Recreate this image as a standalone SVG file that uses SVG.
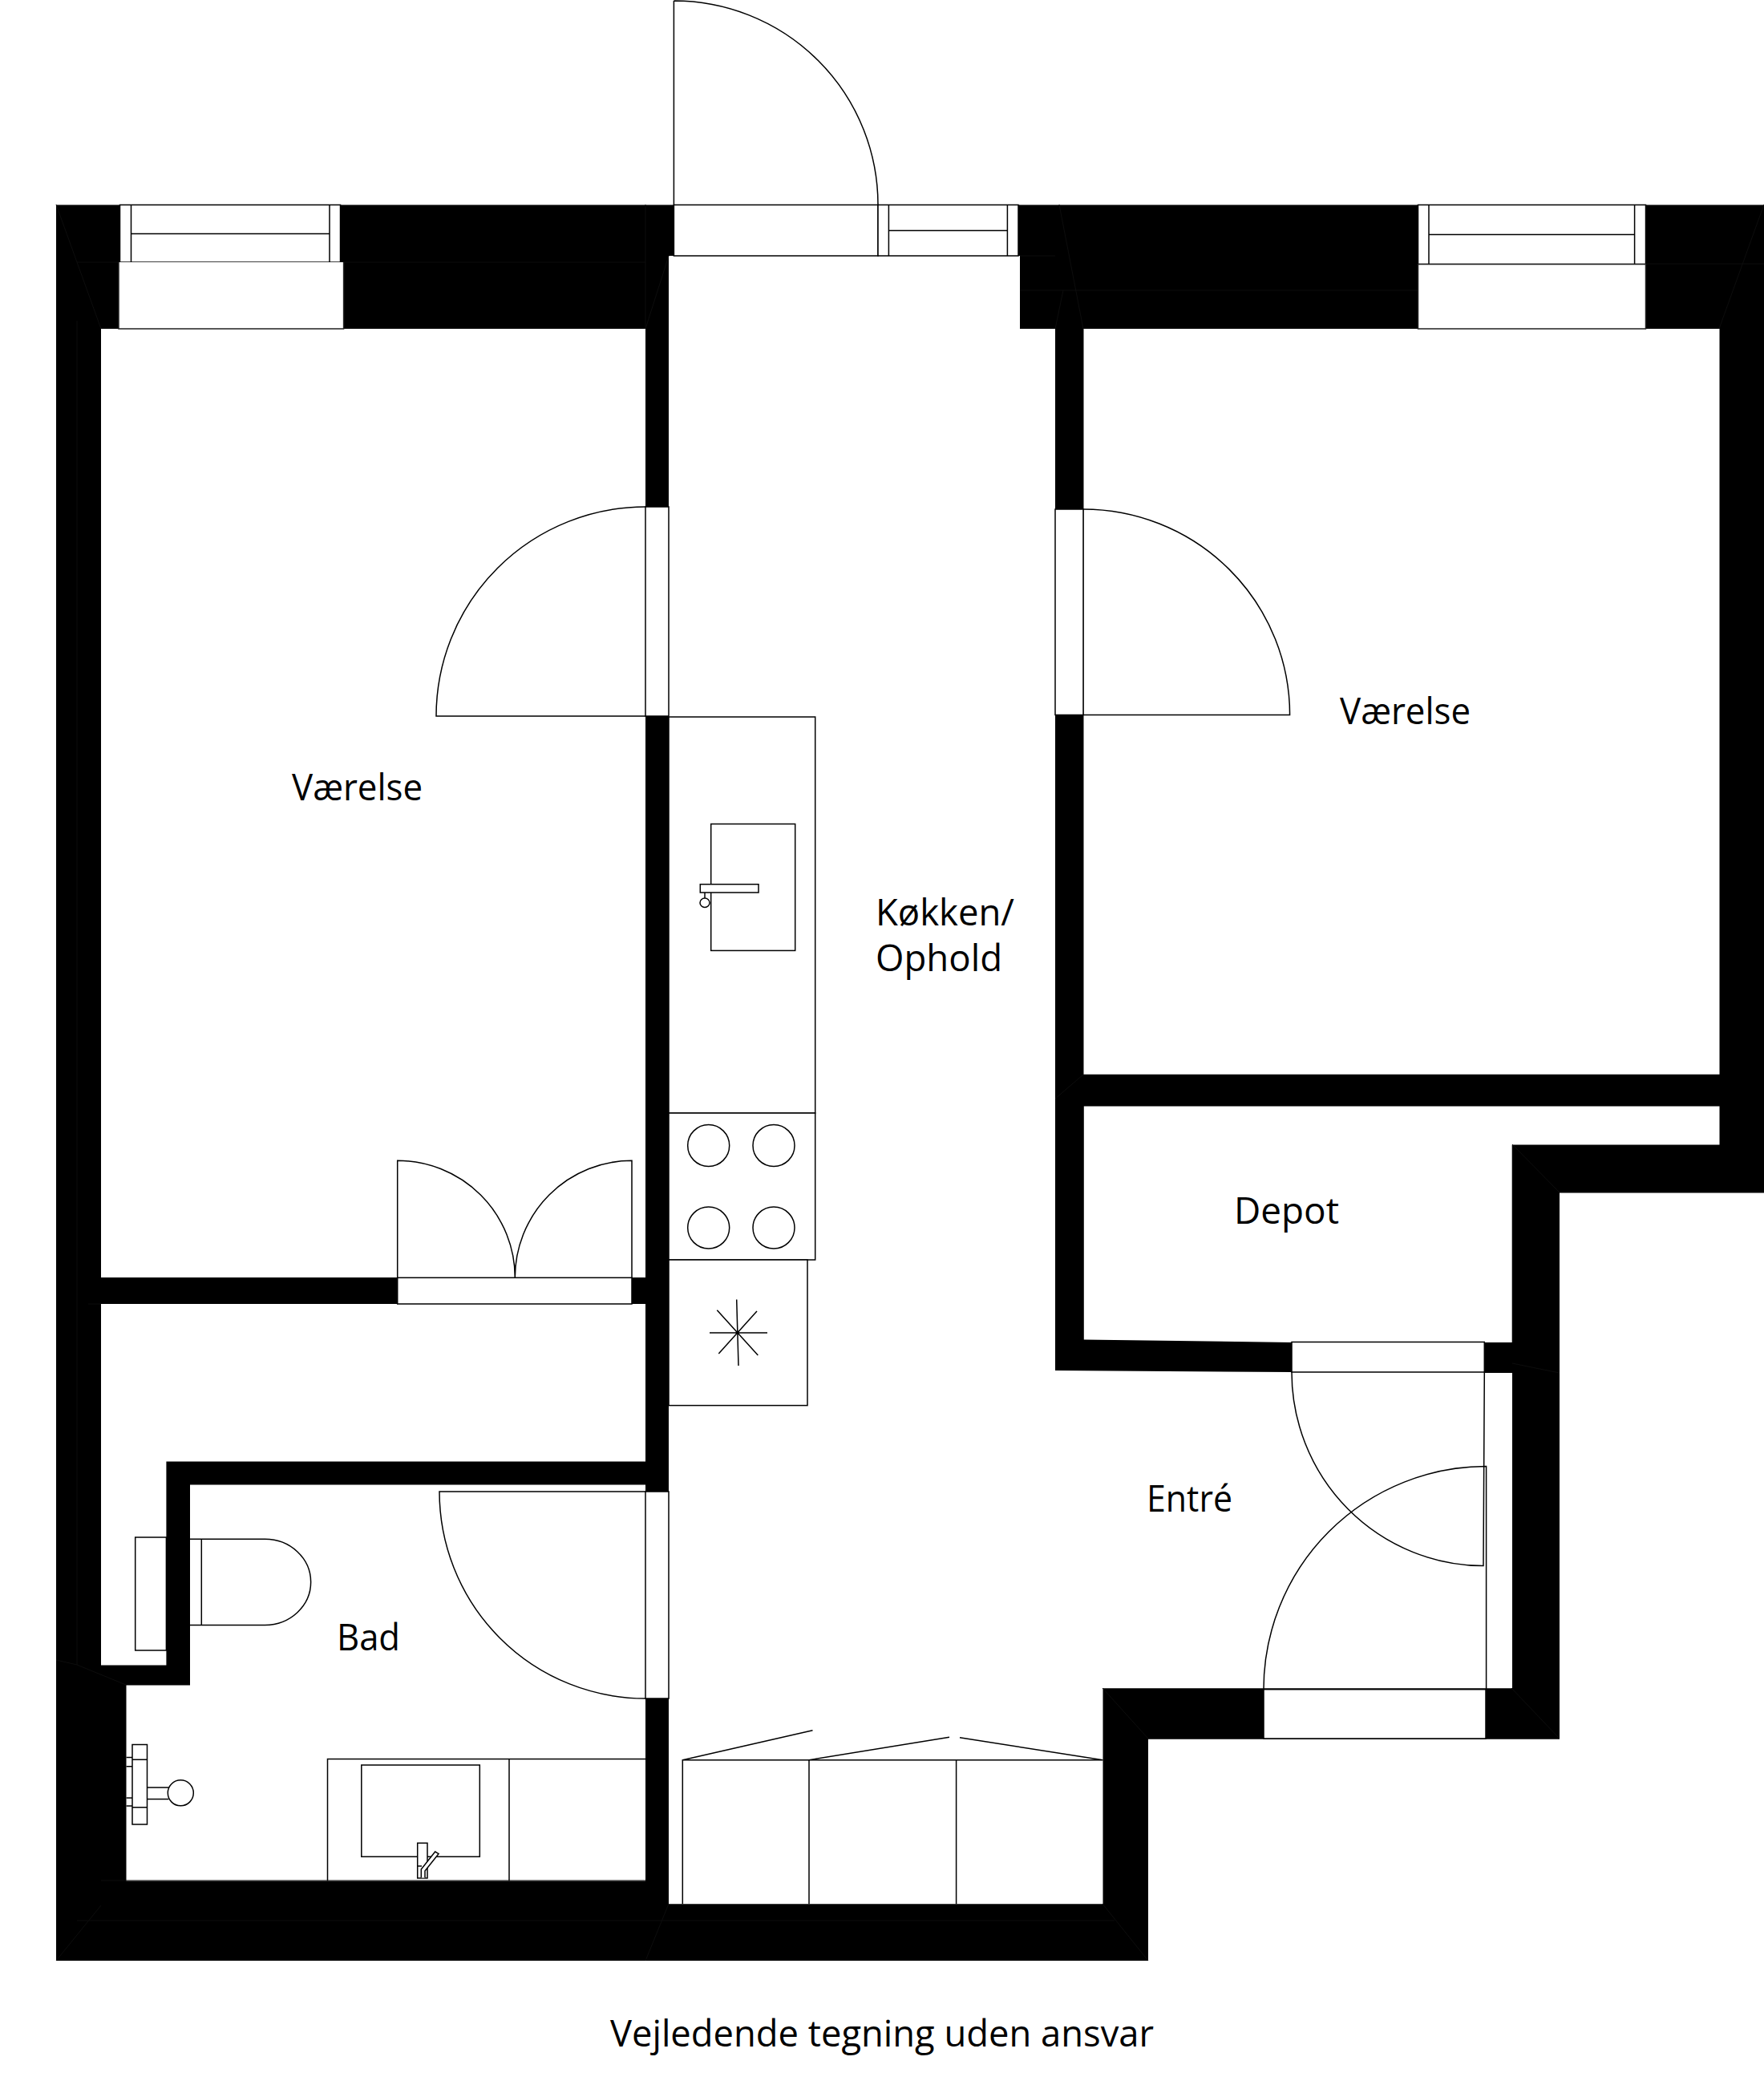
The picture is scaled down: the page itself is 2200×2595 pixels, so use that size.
<svg xmlns="http://www.w3.org/2000/svg" width="2200" height="2595" viewBox="0 0 2200 2595">
<style>
.w{fill:#fff;stroke:none}
.l{fill:none;stroke:#000;stroke-width:1.5}
.o{fill:#fff;stroke:#000;stroke-width:1.5}
.s{fill:#fff;stroke:#222;stroke-width:1.5}
.f{fill:none;stroke:#0d0d0d;stroke-width:1}
.t{font-family:"Open Sans","Noto Sans",sans-serif;font-size:46px;fill:#000}
</style>
<rect width="2200" height="2595" fill="#fff"/>
<g id="walls">
<path fill="#000" d="M70 255.500H2200V1487.500H1945V2168.700H1432V2445H70Z"/>
<path class="w" d="M126 410H805V1593H126Z"/>
<path class="w" d="M126 1626H805V1822.400H207.400V2076.400H126Z"/>
<path class="w" d="M237 1851.400H805V2345.600H157.500V2101.400H237Z"/>
<path class="w" d="M834 319H1272V410H1316V1709L1611 1711H1851.300V1712H1886V2105.300H1375.500V2374.300H834Z"/>
<path class="w" d="M1351.500 410H2144.500V1339.800H1351.500Z"/>
<path class="w" d="M1351.800 1379.600H2144.500V1427.600H1885.700V1674H1611L1351.800 1670.400Z"/>
<path class="f" d="M70 255L126 410M96 327H805M805 255V410L834 319M1272 319H1316M1272 362H1768M1321 255L1351 410M1316 410L1326 362M2200 255L2144 410M1768 329H2200M110 1626H126M96 400V2076M96 2076L157 2101M96 2076L70 2070M126 2345H805M70 2445L126 2376M96 2395H1390M805 2445L834 2374M1375 2374L1432 2445M1375 2105L1432 2168M1885 2105L1945 2168M1886 1427L1945 1487M1316 1370L1351 1340M1886 1700L1945 1712"/>
</g>
<g id="window-left">
<rect class="w" x="148" y="327" width="280.600" height="83"/>
<rect class="o" x="149.500" y="255.500" width="275" height="71.500"/>
<path class="l" d="M163.500 255.500V327M411 255.500V327M163.500 291.500H411"/>
<path class="s" fill="none" d="M148 327V410H428.600V327"/>
</g>
<g id="entrance-door">
<rect class="o" x="840.400" y="255.500" width="254.600" height="63.500"/>
<path class="l" d="M840.400 255.500V1M840.400 1A254.600 254.500 0 0 1 1095 255.500"/>
</g>
<g id="window-small">
<rect class="o" x="1095" y="255.500" width="175" height="63.500"/>
<path class="l" d="M1108.400 255.500V319M1256.400 255.500V319M1108.400 287.500H1256.400"/>
</g>
<g id="window-right">
<rect class="w" x="1768.500" y="329.500" width="284" height="80.500"/>
<rect class="o" x="1768.500" y="255.500" width="284" height="74"/>
<path class="l" d="M1782 255.500V329.500M2038.600 255.500V329.500M1782 292.400H2038.600"/>
<path class="s" d="M1768.500 329.500V410H2052.500V329.500Z"/>
</g>
<g id="door-left-room">
<rect class="o" x="805" y="632" width="29" height="261"/>
<path class="l" d="M805 632A261 261 0 0 0 544 893H805"/>
</g>
<g id="door-right-room">
<rect class="o" x="1316" y="635" width="35" height="256.500"/>
<path class="l" d="M1351 635A257.600 256.500 0 0 1 1608.600 891.500H1351"/>
</g>
<g id="double-door">
<rect class="o" x="495.700" y="1593.300" width="292.300" height="32.700"/>
<path class="l" d="M495.700 1593.300V1447.300A146.600 146 0 0 1 642.300 1593.300A145.700 146 0 0 1 788 1447.300V1593.300"/>
</g>
<g id="door-bath">
<rect class="o" x="805" y="1860" width="29" height="258"/>
<path class="l" d="M805 1860H548A257 258 0 0 0 805 2118"/>
</g>
<g id="door-depot">
<path class="o" d="M1611 1673.500H1851.300V1711H1611Z"/>
<path class="l" d="M1611 1711A240 241.600 0 0 0 1850 1952.600L1851.300 1711"/>
</g>
<g id="door-entry">
<rect class="o" x="1576" y="2106.700" width="277" height="61.300"/>
<path class="l" d="M1576 2106.700A277.600 278 0 0 1 1853.600 1828.600V2106.700"/>
</g>
<g id="kitchen">
<rect class="o" x="834" y="894" width="182.700" height="494"/>
<rect class="o" x="834" y="1388" width="182.700" height="183"/>
<rect class="o" x="834" y="1571" width="173" height="181.600"/>
<rect class="o" x="886.700" y="1027.500" width="105" height="157.900"/>
<rect class="o" x="873.300" y="1102.700" width="72.700" height="10.300"/>
<path class="l" d="M879 1113V1120"/>
<ellipse class="o" cx="879" cy="1125.700" rx="6" ry="5.700"/>
<g class="l">
<circle cx="883.700" cy="1428.500" r="26"/>
<circle cx="965" cy="1428.500" r="26"/>
<circle cx="883.700" cy="1531" r="26"/>
<circle cx="965" cy="1531" r="26"/>
</g>
<path class="l" d="M885 1662H957M918.700 1620.500L921 1703M894.300 1633.700L945.300 1690M944 1635L896.300 1688"/>
<circle cx="919.500" cy="1662" r="2" fill="#000"/>
</g>
<g id="wardrobe">
<path class="l" d="M851.300 2374.300V2194.700H1375.500M1009 2194.700V2374.300M1192.600 2194.700V2374.300M851.300 2194.700L1013.500 2157.700M1009 2194.700L1184 2166.300M1375.500 2194.700L1197 2166.700"/>
</g>
<g id="toilet">
<rect class="o" x="168.700" y="1917" width="38.700" height="141"/>
<path class="o" d="M237 1919.300H330.400A57.200 53.500 0 0 1 330.400 2026.400H237"/>
<path class="l" d="M251.300 1919.300V2026.400"/>
</g>
<g id="shower">
<rect class="o" x="165" y="2175.500" width="18.500" height="99.500"/>
<path class="l" d="M165 2194.300H183.500M165 2253.700H183.500M157.500 2191.600H165M157.500 2202.800H165M157.500 2242H165M157.500 2252H165M183.500 2229H210.500M183.500 2243.400H210.500"/>
<circle class="o" cx="225.300" cy="2235.800" r="16"/>
</g>
<g id="vanity">
<path class="l" d="M408.500 2345.600V2193.400H805M635 2193.400V2345.600"/>
<rect class="o" x="450.800" y="2201" width="147.500" height="114.300"/>
<rect class="o" x="520.700" y="2298.300" width="12.300" height="43.700"/>
<path class="l" d="M520.700 2327H526"/>
<path class="o" d="M525.300 2341.600V2331L542.700 2309L547 2311.600L530 2333V2341.600"/>
</g>
<g id="labels">
<text class="t" x="364" y="998" textLength="163" lengthAdjust="spacingAndGlyphs">Værelse</text>
<text class="t" x="1671" y="903" textLength="163" lengthAdjust="spacingAndGlyphs">Værelse</text>
<text class="t" x="1092" y="1154" textLength="173" lengthAdjust="spacingAndGlyphs">Køkken/</text>
<text class="t" x="1092" y="1211" textLength="158" lengthAdjust="spacingAndGlyphs">Ophold</text>
<text class="t" x="1539" y="1526" textLength="131" lengthAdjust="spacingAndGlyphs">Depot</text>
<text class="t" x="1430" y="1885" textLength="107" lengthAdjust="spacingAndGlyphs">Entré</text>
<text class="t" x="420" y="2058" textLength="79" lengthAdjust="spacingAndGlyphs">Bad</text>
<text class="t" x="761" y="2552" textLength="678" lengthAdjust="spacingAndGlyphs">Vejledende tegning uden ansvar</text>
</g>
</svg>
